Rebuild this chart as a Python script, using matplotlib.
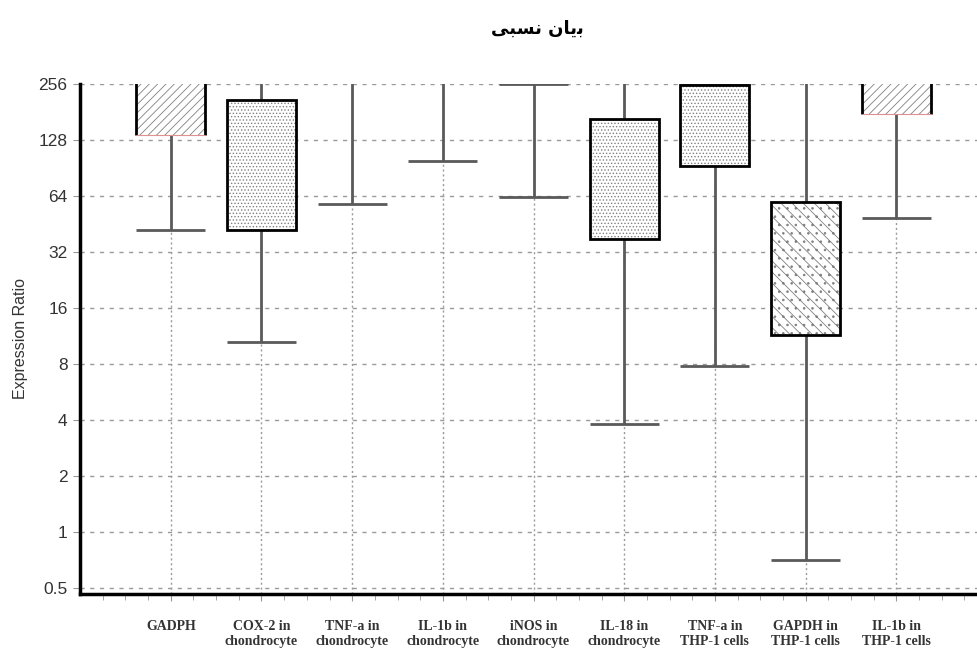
import numpy as np
import matplotlib
matplotlib.use('Agg')
from matplotlib import pyplot as plt
from matplotlib.ticker import FixedLocator, NullFormatter

# Persian title in presentation forms, visual (left-to-right) order
TITLE = '\ufbfd\ufe92\ufeb4\ufee7 \ufee5\ufe8e\ufbfe\ufe91'

labels = ['GADPH', 'COX-2 in\nchondrocyte', 'TNF-a in\nchondrocyte',
          'IL-1b in\nchondrocyte', 'iNOS in\nchondrocyte', 'IL-18 in\nchondrocyte',
          'TNF-a in\nTHP-1 cells', 'GAPDH in\nTHP-1 cells', 'IL-1b in\nTHP-1 cells']
box_lo = [136, 42, np.nan, np.nan, np.nan, 37.6, 92.8, 11.5, 176]
box_hi = [512, 210, np.nan, np.nan, np.nan, 166, 253, 59.6, 512]
whisker_lo = [42, 10.5, 58, 98.7, 63, 3.8, 7.8, 0.71, 48.7]
whisker_hi = [512, 512, 512, 512, 256, 512, 253, 512, 512]
hatches = ['////', '.....', None, None, None, '.....', '.....', '\\\\\\..', '////']

y_ticks = [0.5, 1, 2, 4, 8, 16, 32, 64, 128, 256]

plt.rcParams['hatch.linewidth'] = 0.6

fig = plt.figure(figsize=(9.77, 6.49), dpi=100)
ax = fig.add_axes([0.082, 0.0847, 0.918, 0.786])

x = np.arange(1, len(labels) + 1)
width = 0.76
ymax = 256

for i, xi in enumerate(x):
    # whiskers
    lo, hi = box_lo[i], box_hi[i]
    if np.isnan(lo):
        ax.vlines(xi, whisker_lo[i], whisker_hi[i], color='#5a5a5a', lw=2, zorder=3)
    else:
        ax.vlines(xi, whisker_lo[i], lo, color='#5a5a5a', lw=2, zorder=3)
        ax.vlines(xi, hi, whisker_hi[i], color='#5a5a5a', lw=2, zorder=3)
    ax.hlines([whisker_lo[i], whisker_hi[i]], xi - width / 2, xi + width / 2,
              color='#5a5a5a', lw=2, zorder=3)
    if np.isnan(lo):
        continue
    # hatched box
    ax.bar(xi, hi - lo, bottom=lo, width=width, color='white', hatch=hatches[i],
           edgecolor='#808080', lw=0, zorder=4)
    if hi > ymax:
        ax.vlines([xi - width / 2, xi + width / 2], lo, hi, color='black', lw=2, zorder=5)
        ax.hlines(lo, xi - width / 2, xi + width / 2, color='#e09090', lw=0.8, zorder=5)
    else:
        ax.bar(xi, hi - lo, bottom=lo, width=width, color='none',
               edgecolor='black', lw=2, zorder=5)

ax.set_yscale('log', base=2)
ax.set_ylim(0.464, ymax)
ax.set_xlim(0, 9.89)
ax.yaxis.set_major_locator(FixedLocator(y_ticks))
ax.set_yticklabels([('%g' % v) for v in y_ticks], fontsize=12.5,
                   family='Liberation Sans', color='#333333')
ax.yaxis.set_minor_locator(FixedLocator([]))
ax.set_xticks(x)
ax.set_xticklabels(labels, fontsize=10, family='Liberation Serif', fontweight='bold',
                   linespacing=1.2, color='#333333')
ax.xaxis.set_minor_locator(FixedLocator(np.arange(0.25, 9.9, 0.25)))
ax.xaxis.set_minor_formatter(NullFormatter())
ax.tick_params(axis='x', which='major', length=5, color='#999999', pad=14)
ax.tick_params(axis='x', which='minor', length=4, color='#999999')
ax.tick_params(axis='y', length=5, color='#999999', pad=4)

ax.grid(axis='y', color='#9a9a9a', lw=1, linestyle=(0, (3, 4)))
ax.grid(axis='x', color='#9a9a9a', lw=1, linestyle=(0, (1.5, 2)))
ax.set_axisbelow(True)

for side in ['top', 'right']:
    ax.spines[side].set_visible(False)
ax.spines['left'].set_linewidth(2.5)
ax.spines['bottom'].set_linewidth(2.5)

ax.set_ylabel('Expression Ratio', fontsize=11.5, family='Liberation Sans',
              color='#333333', labelpad=8)
fig.text(0.55, 0.955, TITLE, ha='center', va='center', fontsize=13,
         fontweight='bold', family=['DejaVu Sans'])

fig.savefig('out.png', dpi=100)
